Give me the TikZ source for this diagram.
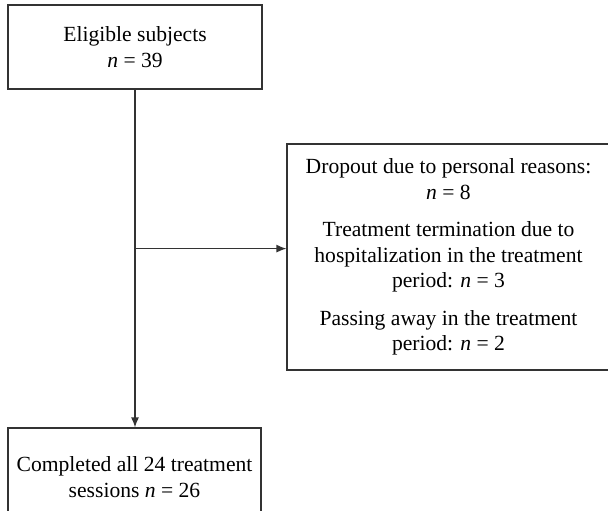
\documentclass[tikz,border=0pt]{standalone}
\usepackage{fontspec}
\setmainfont{Liberation Serif}
\usetikzlibrary{arrows.meta,calc}
\begin{document}
\begin{tikzpicture}[x=1pt,y=-1pt,
  box/.style={draw=black!80, line width=1.2pt, align=center, inner sep=0pt,
              font=\fontsize{21.6}{25.5}\selectfont},
  conn/.style={draw=black!80, line width=1.2pt, -{Latex[length=10pt,width=8pt]}}]
\useasboundingbox (0,0) rectangle (608,511);
\node[box, minimum width=254pt, minimum height=84pt] (elig) at (135,47)
  {Eligible subjects\\\textit{n} = 39};
\node[box, minimum width=323pt, minimum height=226pt] (drop) at (448.5,257)
  {Dropout due to personal reasons:\\\textit{n} = 8\\[12pt]
   Treatment termination due to\\hospitalization in the treatment\\period: \textit{n} = 3\\[12pt]
   Passing away in the treatment\\period: \textit{n} = 2};
\node[box, minimum width=253pt, minimum height=98pt] (done) at (134.5,477)
  {Completed all 24 treatment\\sessions \textit{n} = 26};
\coordinate (j) at ($(elig.south)+(0,159)$);
\draw[conn] (elig.south) -- (elig.south |- done.north);
\draw[conn] (j) -- (j -| drop.west);
\end{tikzpicture}
\end{document}
